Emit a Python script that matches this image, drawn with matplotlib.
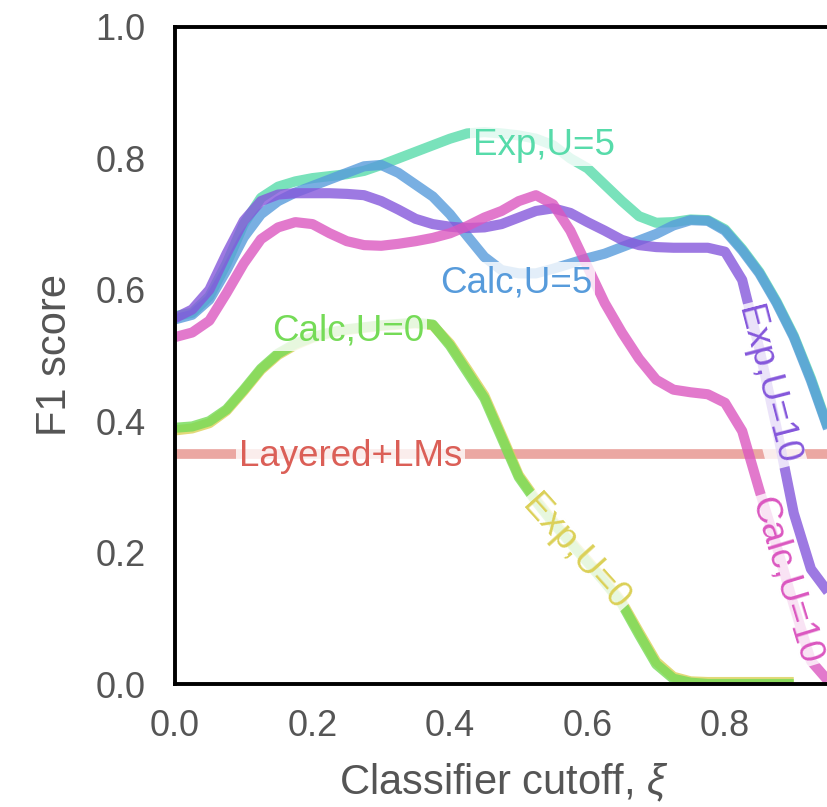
import numpy as np
import matplotlib.pyplot as plt
import seaborn as sns

# classifier cutoff grid, step 0.025
cutoff = np.round(np.arange(0.0, 0.951, 0.025), 3)

layered_f1 = 0.35

exp_u0 = [0.386, 0.389, 0.397, 0.416, 0.446, 0.478, 0.501, 0.516, 0.527, 0.534,
          0.539, 0.542, 0.545, 0.547, 0.549, 0.546, 0.518, 0.479, 0.439, 0.379,
          0.318, 0.281, 0.248, 0.218, 0.188, 0.158, 0.125, 0.079, 0.034, 0.011,
          0.004, 0.003, 0.003, 0.003, 0.003, 0.003, 0.003]
calc_u0 = [0.390, 0.392, 0.400, 0.418, 0.448, 0.480, 0.503, 0.518, 0.528, 0.535,
           0.540, 0.543, 0.546, 0.548, 0.550, 0.547, 0.515, 0.475, 0.435, 0.375,
           0.315, 0.278, 0.245, 0.215, 0.185, 0.155, 0.122, 0.075, 0.030, 0.008,
           0.002, 0.0, 0.0, 0.0, 0.0, 0.0, 0.0]
exp_u5 = [0.560, 0.565, 0.590, 0.640, 0.700, 0.740, 0.757, 0.765, 0.770, 0.773,
          0.776, 0.781, 0.790, 0.800, 0.810, 0.820, 0.830, 0.838, 0.840, 0.838,
          0.835, 0.830, 0.820, 0.800, 0.785, 0.760, 0.735, 0.712, 0.702, 0.703,
          0.707, 0.706, 0.692, 0.662, 0.627, 0.582, 0.530, 0.465, 0.390]
calc_u5 = [0.555, 0.562, 0.585, 0.630, 0.680, 0.715, 0.735, 0.748, 0.758, 0.768,
           0.778, 0.788, 0.790, 0.778, 0.760, 0.742, 0.715, 0.682, 0.650, 0.630,
           0.625, 0.625, 0.632, 0.640, 0.648, 0.655, 0.665, 0.675, 0.685, 0.698,
           0.706, 0.705, 0.690, 0.660, 0.625, 0.580, 0.528, 0.462, 0.388]
exp_u10 = [0.557, 0.570, 0.600, 0.655, 0.705, 0.735, 0.745, 0.747, 0.747, 0.747,
           0.746, 0.744, 0.735, 0.722, 0.708, 0.700, 0.696, 0.694, 0.695, 0.700,
           0.710, 0.720, 0.724, 0.717, 0.703, 0.690, 0.676, 0.668, 0.665, 0.664,
           0.664, 0.664, 0.658, 0.615, 0.510, 0.390, 0.260, 0.175, 0.140]
calc_u10 = [0.528, 0.535, 0.553, 0.595, 0.640, 0.677, 0.695, 0.703, 0.700, 0.686,
            0.674, 0.668, 0.667, 0.670, 0.674, 0.679, 0.686, 0.697, 0.710, 0.720,
            0.735, 0.744, 0.730, 0.690, 0.635, 0.580, 0.535, 0.495, 0.463, 0.448,
            0.444, 0.441, 0.428, 0.385, 0.295, 0.210, 0.120, 0.035, 0.005]

series_names = ["Exp,U=0", "Calc,U=0", "Exp,U=5", "Calc,U=5", "Exp,U=10", "Calc,U=10"]
series_values = [exp_u0, calc_u0, exp_u5, calc_u5, exp_u10, calc_u10]

# inline label placement: (x, y, rotation)
label_spots = {
    "Layered+LMs": (0.255, 0.347, 0),
    "Exp,U=0": (0.582, 0.200, -48),
    "Calc,U=0": (0.252, 0.538, 0),
    "Exp,U=5": (0.536, 0.820, 0),
    "Calc,U=5": (0.496, 0.611, 0),
    "Exp,U=10": (0.861, 0.455, -75.5),
    "Calc,U=10": (0.889, 0.158, -73),
}

sns.set_style("white")
plt.rcParams["font.family"] = ["Liberation Sans", "DejaVu Sans"]
plt.rcParams["mathtext.fontset"] = "custom"
plt.rcParams["mathtext.it"] = "Liberation Sans:italic"

colors = sns.color_palette("hls", 7)
text_grey = "#555555"

W, H = 827, 807
fig = plt.figure(figsize=(W / 100, H / 100), dpi=100)
ax = fig.add_axes([175 / W, (H - 684) / H, 687.5 / W, 657 / H])

ax.axhline(layered_f1, color=colors[0], lw=7, alpha=0.55, label="Layered+LMs")
for i, (name, vals) in enumerate(zip(series_names, series_values)):
    ax.plot(cutoff[:len(vals)], vals, color=colors[i + 1], lw=7.3, alpha=0.8,
            solid_capstyle="butt", solid_joinstyle="round", label=name)

for i, name in enumerate(["Layered+LMs"] + series_names):
    x, y, rot = label_spots[name]
    ax.text(x, y, name, color=colors[i], fontsize=26.5, rotation=rot,
            rotation_mode="anchor", ha="center", va="center", zorder=5,
            bbox=dict(boxstyle="square,pad=0.08", fc="white", ec="none", alpha=0.8))

ax.set_xlim(0, 1)
ax.set_ylim(0, 1)
ax.set_xticks([0.0, 0.2, 0.4, 0.6, 0.8])
ax.set_yticks([0.0, 0.2, 0.4, 0.6, 0.8, 1.0])
ax.xaxis.set_major_formatter(plt.FormatStrFormatter("%.1f"))
ax.yaxis.set_major_formatter(plt.FormatStrFormatter("%.1f"))
ax.tick_params(axis="both", length=0, labelsize=26, labelcolor=text_grey)
ax.tick_params(axis="x", pad=18)
ax.tick_params(axis="y", pad=21)
for side in ax.spines.values():
    side.set_visible(True)
    side.set_color("black")
    side.set_linewidth(2.8)

fig.text(504 / W, 1 - 783 / H, r"Classifier cutoff, $\xi$", fontsize=30,
         color=text_grey, ha="center", va="center")
fig.text(55 / W, 1 - 355 / H, "F1 score", fontsize=30, color=text_grey,
         rotation=90, ha="center", va="center")

fig.savefig("out.png", dpi=100)
